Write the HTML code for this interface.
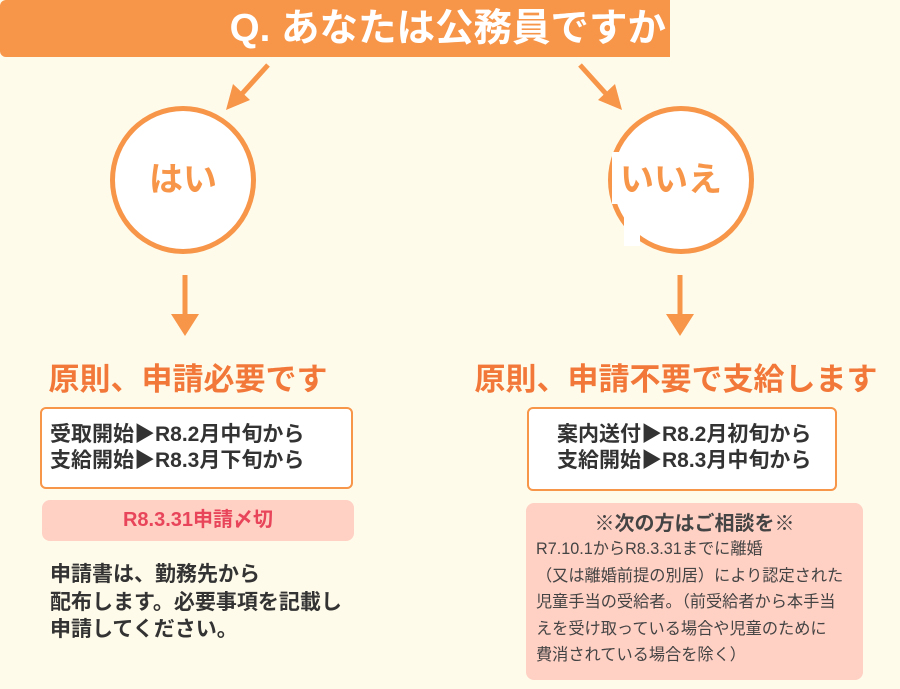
<!DOCTYPE html>
<html><head><meta charset="utf-8"><style>
body{margin:0;width:900px;height:689px;background:#fffbea;position:relative;overflow:hidden;font-family:"Liberation Sans","Noto Sans CJK JP",sans-serif}
.a{position:absolute}
.banner{left:0;top:0;width:670px;height:57px;background:#f79549;border-radius:6px 0 0 6px;color:#fff;font-weight:bold;font-size:38.5px;line-height:57px;text-align:right;padding-right:4px;box-sizing:border-box;white-space:nowrap}
.circ{width:146px;height:148px;border:5px solid #f79549;border-radius:50%;background:#fff;box-sizing:border-box;color:#f79549;font-weight:bold;font-size:34px;text-align:center;line-height:138px}
.h{color:#f2783a;font-weight:bold;font-size:31px;text-align:center;width:400px;white-space:nowrap}
.box{background:#fff;border:2px solid #f79549;border-radius:6px;box-sizing:border-box;font-size:21px;font-weight:bold;color:#333;line-height:26px;padding-top:13px;white-space:nowrap}
.pink{background:#ffd0c4;border-radius:8px}
</style></head><body>
<div class="a banner">Q. あなたは公務員ですか</div>
<svg class="a" style="left:0;top:0" width="900" height="689">
<g stroke="#f79549" stroke-width="5" fill="#f79549">
<line x1="268" y1="65" x2="240" y2="96"/><polygon points="226,110 233,84 250,100" stroke="none"/>
<line x1="580" y1="65" x2="608" y2="96"/><polygon points="622,110 615,84 598,100" stroke="none"/>
<line x1="185" y1="275" x2="185" y2="318"/><polygon points="171,314 199,314 185,336" stroke="none"/>
<line x1="680" y1="275" x2="680" y2="318"/><polygon points="666,314 694,314 680,336" stroke="none"/>
</g></svg>
<div class="a circ" style="left:110px;top:106px">はい</div>
<div class="a circ" style="left:608px;top:106px"></div>
<div class="a" style="left:612px;top:152px;width:30px;height:52px;background:#fff"></div>
<div class="a" style="left:624px;top:204px;width:16px;height:42px;background:#fff"></div>
<div class="a" style="left:620px;top:106px;line-height:148px;color:#f79549;font-weight:bold;font-size:34px;white-space:nowrap">いいえ</div>
<div class="a h" style="left:-12px;top:354px">原則、申請必要です</div>
<div class="a h" style="left:470px;top:354px;width:412px">原則、申請不要で支給します</div>
<div class="a box" style="left:40px;top:407px;width:313px;height:82px;padding-left:8px">受取開始▶R8.2月中旬から<br>支給開始▶R8.3月下旬から</div>
<div class="a box" style="left:527px;top:407px;width:310px;height:84px;padding-left:28px">案内送付▶R8.2月初旬から<br>支給開始▶R8.3月中旬から</div>
<div class="a pink" style="left:42px;top:500px;width:312px;height:41px;color:#e8455a;font-size:20px;font-weight:bold;text-align:center;line-height:41px">R8.3.31申請〆切</div>
<div class="a" style="left:50px;top:561px;font-size:21px;font-weight:bold;color:#333;line-height:27.5px;white-space:nowrap">申請書は、勤務先から<br>配布します。必要事項を記載し<br>申請してください。</div>
<div class="a pink" style="left:526px;top:503px;width:337px;height:177px;color:#444">
<div style="text-align:center;font-weight:bold;font-size:20px;margin-top:9px;line-height:24px">※次の方はご相談を※</div>
<div style="padding-left:10px;font-size:16.2px;line-height:26.5px;margin-top:0px;white-space:nowrap">R7.10.1からR8.3.31までに離婚<br>（又は離婚前提の別居）により認定された<br>児童手当の受給者。（前受給者から本手当<br>えを受け取っている場合や児童のために<br>費消されている場合を除く）</div>
</div>
</body></html>
